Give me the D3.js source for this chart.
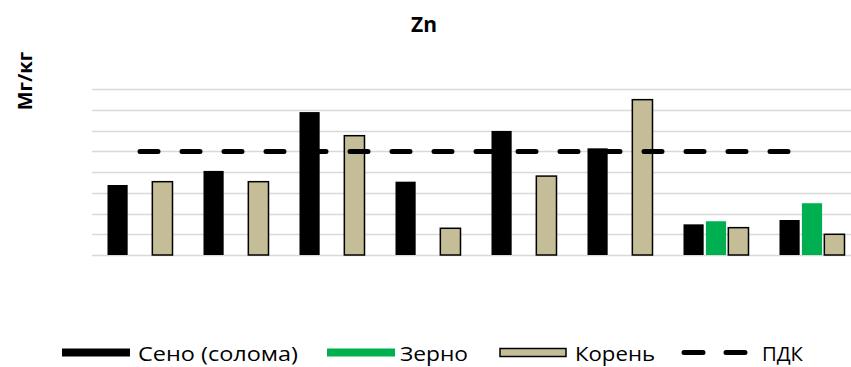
<!DOCTYPE html>
<html><head><meta charset="utf-8">
<script src="https://cdn.jsdelivr.net/npm/d3@7"></script>
<style>body{margin:0;background:#fff}svg{display:block}text{font-family:"Open Sans","Liberation Sans",sans-serif}</style>
</head><body><div id="chart"></div>
<script>
const categories = ["1","2","3","4","5","6","7","8"];
const seriesNames = ["Сено (солома)","Зерно","Корень"];
const hay   = [33.8, 40.6, 69.0, 35.4, 59.9, 51.5, 14.8, 16.9];
const grain = [null, null, null, null, null, null, 16.3, 25.0];
const root  = [35.4, 35.4, 57.6, 12.9, 38.1, 75.0, 13.2, 10.0];
const pdk = 50;
const yTicks = [0,10,20,30,40,50,60,70,80];
const colors = ["#000000","#00b050","#c4bd97"];

const W=851,H=367;
const svg=d3.select("#chart").append("svg").attr("width",W).attr("height",H);
const x=d3.scaleBand().domain(categories).range([92,860]).paddingInner(0).paddingOuter(0);
const y=d3.scaleLinear().domain([0,80]).range([255,89.3]);
const inner=d3.scaleBand().domain([0,1,2]).range([x.bandwidth()/2-32.5,x.bandwidth()/2+32.5]).paddingInner(0.1);

svg.append("g").selectAll("line").data(yTicks).join("line")
 .attr("x1",92).attr("x2",860).attr("y1",d=>Math.round(y(d))+0.5).attr("y2",d=>Math.round(y(d))+0.5)
 .attr("stroke","#d9d9d9").attr("stroke-width",1.5);

const series=[hay,grain,root];
series.forEach((vals,si)=>{
  svg.append("g").selectAll("rect").data(vals.map((v,i)=>({v,c:categories[i]})).filter(d=>d.v!=null)).join("rect")
   .attr("x",d=>x(d.c)+inner(si)).attr("width",inner.bandwidth())
   .attr("y",d=>y(d.v)).attr("height",d=>y(0)-y(d.v))
   .attr("fill",colors[si])
   .attr("stroke",si===2?"#000":"none").attr("stroke-width",si===2?1.5:0);
});

svg.append("line")
 .attr("x1",x(categories[0])+x.bandwidth()/2).attr("x2",x(categories[7])+x.bandwidth()/2-1)
 .attr("y1",y(pdk)).attr("y2",y(pdk))
 .attr("stroke","#000").attr("stroke-width",5).attr("stroke-linecap","round").attr("stroke-dasharray","18,24");

svg.append("text").attr("x",424).attr("y",32).attr("text-anchor","middle")
 .attr("font-weight","bold").attr("font-size",21).text("Zn");
svg.append("text").attr("transform","translate(31.5,81) rotate(-90)").attr("text-anchor","middle")
 .attr("font-weight","bold").attr("font-size",20).text("Мг/кг");

// legend
const lg=svg.append("g");
const items=[
 {name:seriesNames[0],type:"rect",sx:62,sw:68,tx:138,tw:160,fill:colors[0],stroke:"none"},
 {name:seriesNames[1],type:"rect",sx:327,sw:68,tx:400,tw:68,fill:colors[1],stroke:"none"},
 {name:seriesNames[2],type:"rect",sx:500,sw:66,tx:575,tw:80,fill:colors[2],stroke:"#000"},
 {name:"ПДК",type:"line",sx:684,sw:62,tx:762,tw:41}
];
items.forEach(it=>{
  if(it.type==="rect"){
    lg.append("rect").attr("x",it.sx).attr("y",348.5).attr("width",it.sw).attr("height",8)
     .attr("fill",it.fill).attr("stroke",it.stroke).attr("stroke-width",1.5);
  } else {
    lg.append("line").attr("x1",it.sx).attr("x2",it.sx+it.sw).attr("y1",352.5).attr("y2",352.5)
     .attr("stroke","#000").attr("stroke-width",5).attr("stroke-linecap","round").attr("stroke-dasharray","19,23");
  }
  lg.append("text").attr("x",it.tx).attr("y",361).attr("font-size",20).attr("fill","#000")
    .attr("textLength",it.tw).attr("lengthAdjust","spacingAndGlyphs").text(it.name);
});
</script></body></html>
